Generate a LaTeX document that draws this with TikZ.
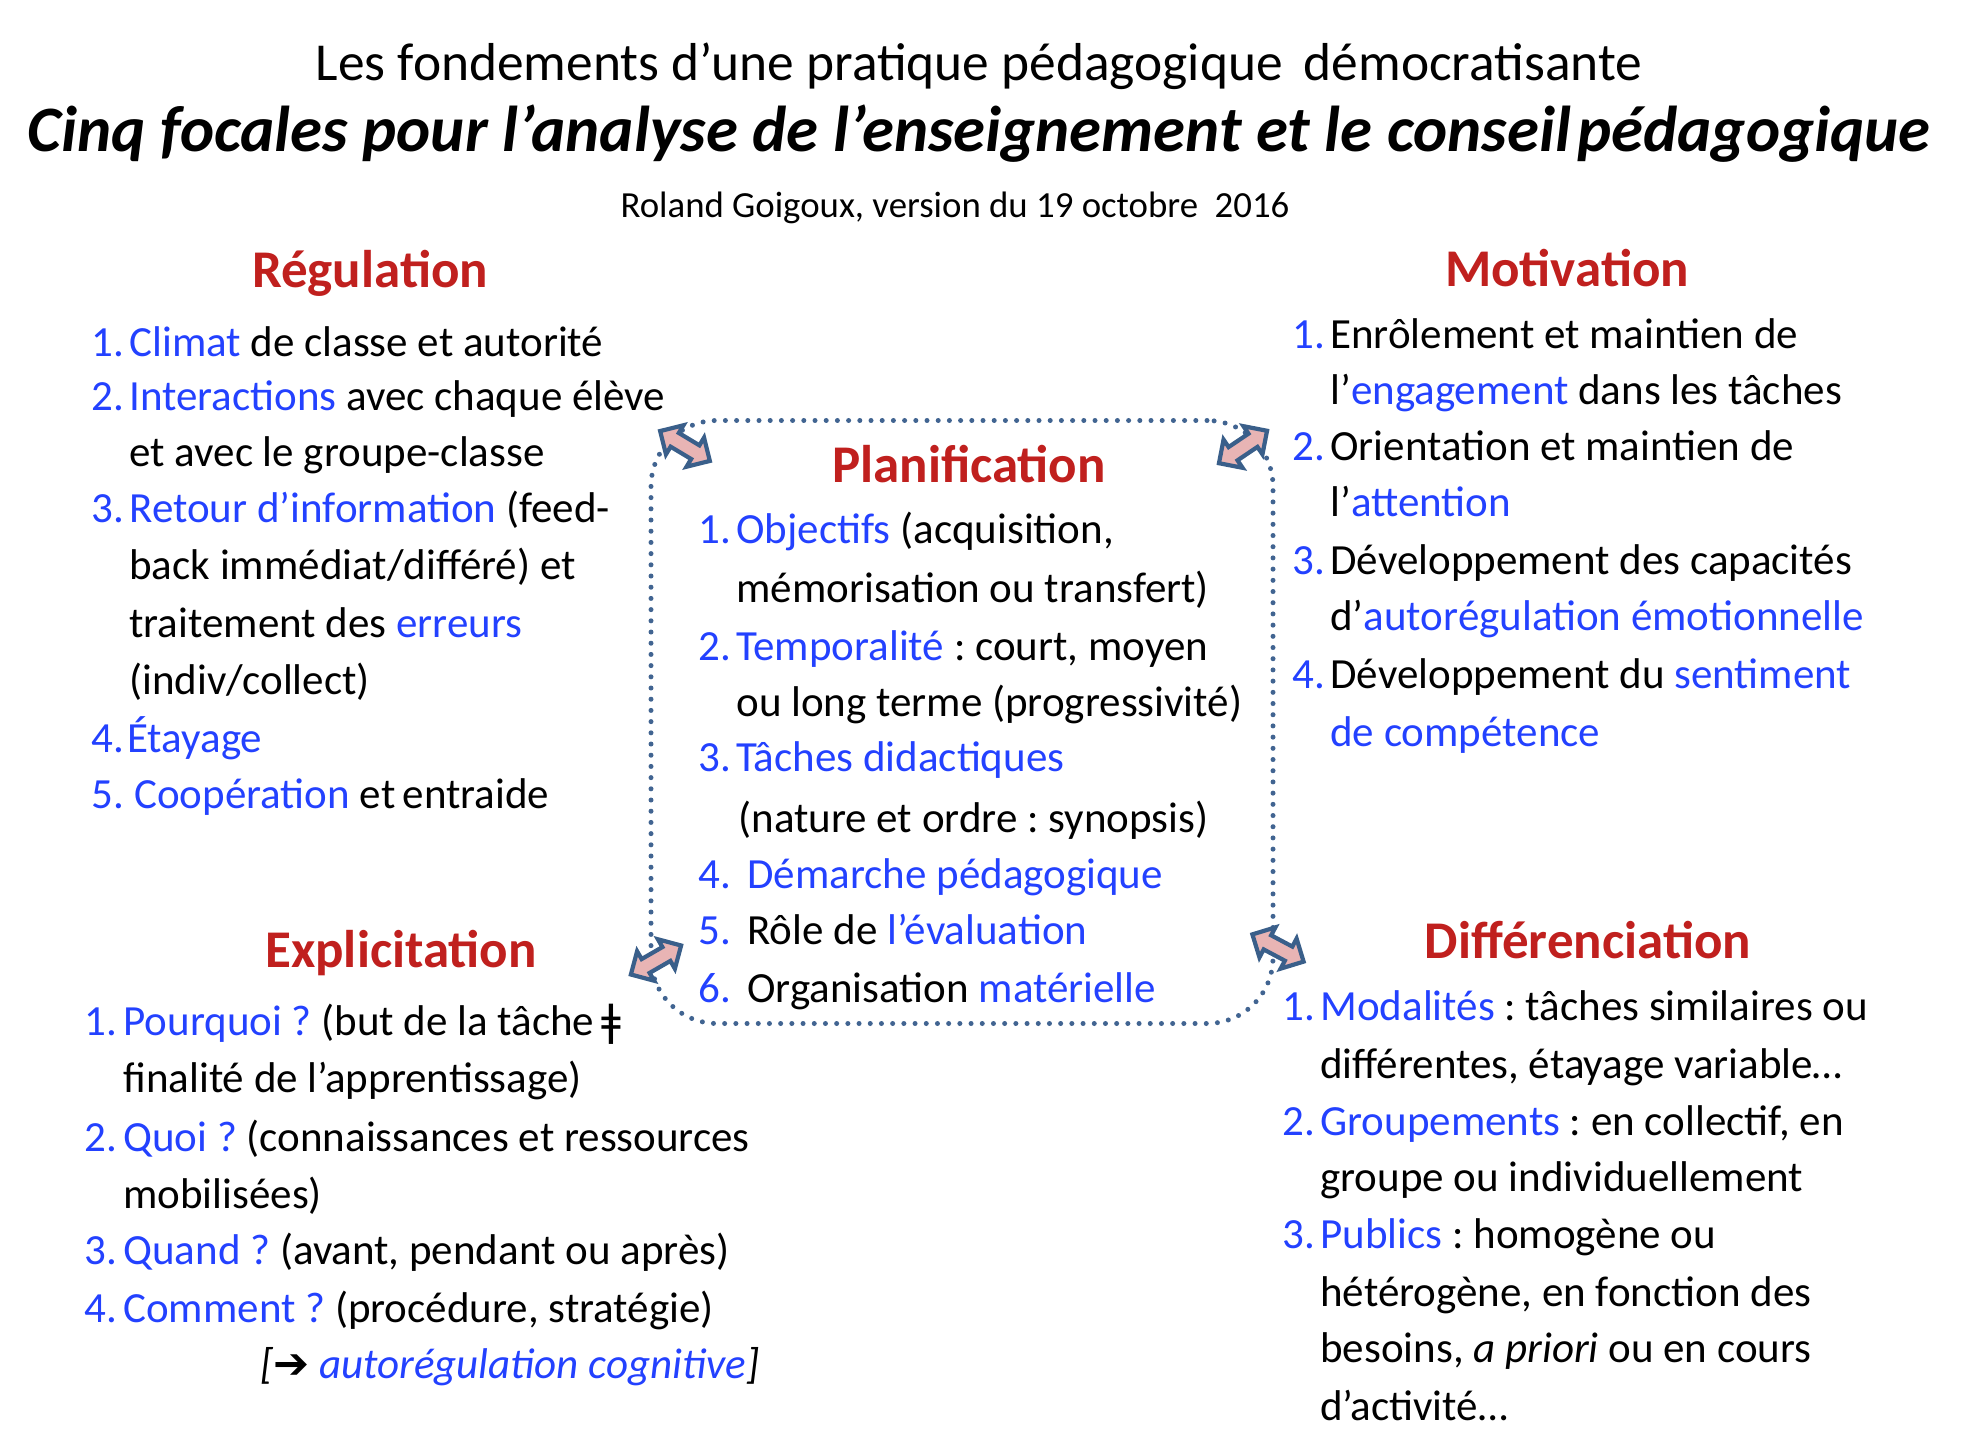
\documentclass[tikz,border=0pt]{standalone}
\usepackage{fontspec}
\setmainfont{Carlito}
\newfontfamily\dejavu{DejaVu Sans}
\definecolor{hred}{RGB}{192,32,30}
\definecolor{tblue}{RGB}{35,65,255}
\definecolor{dotblue}{RGB}{65,100,145}
\definecolor{arrborder}{RGB}{58,95,138}
\definecolor{arrfill}{RGB}{232,180,180}
\newcommand\B[1]{\textcolor{tblue}{#1}}
% double block arrow: name, x, y, angle
\newcommand\dblarr[4]{%
  \coordinate (#1) at (#2,#3);
  \begin{scope}[shift={(#1)}, rotate=#4]
    \draw[dblarrow] (-29,0) -- (-12,17) -- (-12,8) -- (12,8) -- (12,17) -- (29,0)
      -- (12,-17) -- (12,-8) -- (-12,-8) -- (-12,-17) -- cycle;
  \end{scope}}
\begin{document}
\frenchspacing
\begin{tikzpicture}[x=0.5pt,y=-0.5pt,
  txt/.style={anchor=mid west, inner sep=0pt, font=\fontsize{21.5}{26}\selectfont},
  num/.style={txt, text=tblue},
  head/.style={inner sep=0pt, font=\fontsize{26.5}{32}\selectfont\bfseries, text=hred},
  dotbox/.style={draw=dotblue, line width=2.5pt, line cap=round, dash pattern=on 0pt off 5.6pt, rounded corners=33pt},
  dblarrow/.style={draw=arrborder, fill=arrfill, line width=2.1pt, line join=miter}
]
\useasboundingbox (0,0) rectangle (1986,1454);

% titles
\node[inner sep=0pt, font=\fontsize{26.7}{32}\selectfont] (t1) at (979,66) {Les fondements d’une pratique pédagogique\, démocratisante};
\node[inner sep=0pt, font=\fontsize{32.4}{38}\selectfont\bfseries\itshape] (t2) at (979,134) {Cinq focales pour l’analyse de l’enseignement et le conseil\hspace{0.1em}pédagogique};
\node[inner sep=0pt, font=\fontsize{18.4}{22}\selectfont] (t3) at (955,208) {Roland Goigoux, version du 19 octobre\ \ 2016};

\begin{scope}[yshift=-5pt]
% Regulation
\node[num] (r1n) at (91,342) {1.};
\node[txt] (r1) at (129,342) {\B{Climat} de classe et autorité};
\node[num] (r2n) at (91,396) {2.};
\node[txt] (r2) at (129,396) {\B{Interactions} avec chaque élève};
\node[txt] (r2b) at (129,452) {et avec le groupe-classe};
\node[num] (r3n) at (91,508) {3.};
\node[txt] (r3) at (129,508) {\B{Retour d’information} (feed-};
\node[txt] (r3b) at (129,565) {back immédiat/différé) et};
\node[txt] (r3c) at (129,623) {traitement des \B{erreurs}};
\node[txt] (r3d) at (129,680) {(indiv/collect)};
\node[num] (r4n) at (91,738) {4.};
\node[txt] (r4) at (127,738) {\B{Étayage}};
\node[num] (r5n) at (91,794) {5.};
\node[txt] (r5) at (134,794) {\B{Coopération} et\,entraide};

% Motivation
\node[num] (m1n) at (1292,334) {1.};
\node[txt] (m1) at (1330,334) {Enrôlement et maintien de};
\node[txt] (m1b) at (1330,390) {l’\B{engagement} dans les tâches};
\node[num] (m2n) at (1292,446) {2.};
\node[txt] (m2) at (1330,446) {Orientation et maintien de};
\node[txt] (m2b) at (1330,502) {l’\B{attention}};
\node[num] (m3n) at (1292,560) {3.};
\node[txt] (m3) at (1330,560) {Développement des capacités};
\node[txt] (m3b) at (1330,616) {d’\B{autorégulation émotionnelle}};
\node[num] (m4n) at (1292,674) {4.};
\node[txt] (m4) at (1330,674) {Développement du \B{sentiment}};
\node[txt] (m4b) at (1330,732) {\B{de compétence}};

% Planification items
\node[num] (p1n) at (698,529) {1.};
\node[txt] (p1) at (736,529) {\B{Objectifs} (acquisition,};
\node[txt] (p1b) at (736,588) {mémorisation ou transfert)};
\node[num] (p2n) at (698,646) {2.};
\node[txt] (p2) at (736,646) {\B{Temporalité} : court, moyen};
\node[txt] (p2b) at (736,702) {ou long terme (progressivité)};
\node[num] (p3n) at (698,757) {3.};
\node[txt] (p3) at (736,757) {\B{Tâches didactiques}};
\node[txt] (p3b) at (738,818) {(nature et ordre : synopsis)};
\node[num] (p4n) at (698,874) {4.};
\node[txt] (p4) at (747,874) {\B{Démarche pédagogique}};
\node[num] (p5n) at (698,930) {5.};
\node[txt] (p5) at (747,930) {Rôle de \B{l’évaluation}};
\node[num] (p6n) at (698,988) {6.};
\node[txt] (p6) at (747,988) {Organisation \B{matérielle}};

% Explicitation
\node[num] (e1n) at (84,1021) {1.};
\node[txt] (e1) at (123,1021) {\B{Pourquoi ?} (but de la tâche\,{\dejavu ǂ}};
\node[txt] (e1b) at (123,1078) {finalité de l’apprentissage)};
\node[num] (e2n) at (84,1137) {2.};
\node[txt] (e2) at (123,1137) {\B{Quoi ?} (connaissances et ressources};
\node[txt] (e2b) at (123,1194) {mobilisées)};
\node[num] (e3n) at (84,1250) {3.};
\node[txt] (e3) at (123,1250) {\B{Quand ?} (avant, pendant ou après)};
\node[num] (e4n) at (84,1308) {4.};
\node[txt] (e4) at (123,1308) {\B{Comment ?} (procédure, stratégie)};
\node[txt] (e5) at (260,1364) {\itshape [{\dejavu\bfseries ➔} \B{autorégulation cognitive}]};

% Differenciation
\node[num] (d1n) at (1282,1006) {1.};
\node[txt] (d1) at (1320,1006) {\B{Modalités} : tâches similaires ou};
\node[txt] (d1b) at (1320,1064) {différentes, étayage variable…};
\node[num] (d2n) at (1282,1121) {2.};
\node[txt] (d2) at (1320,1121) {\B{Groupements} : en collectif, en};
\node[txt] (d2b) at (1320,1177) {groupe ou individuellement};
\node[num] (d3n) at (1282,1234) {3.};
\node[txt] (d3) at (1320,1234) {\B{Publics} : homogène ou};
\node[txt] (d3b) at (1320,1292) {hétérogène, en fonction des};
\node[txt] (d3c) at (1320,1348) {besoins, \textit{a priori} ou en cours};
\node[txt] (d3d) at (1320,1406) {d’activité…};
\end{scope}

% headings
\node[head] (hreg) at (370,273) {Régulation};
\node[head] (hmot) at (1567,268) {Motivation};
\node[head] (hplan) at (969,464) {Planification};
\node[head] (hexp) at (401,953) {Explicitation};
\node[head] (hdif) at (1588,940) {Différenciation};

% central dotted frame
\node[dotbox, minimum width=311pt, minimum height=301.5pt] (planbox) at (962,722) {};

% arrows at the corners
\dblarr{aTL}{685}{446}{-31}
\dblarr{aTR}{1243}{447}{34}
\dblarr{aBL}{656}{960}{30}
\dblarr{aBR}{1278}{948}{-28}
\end{tikzpicture}
\end{document}
